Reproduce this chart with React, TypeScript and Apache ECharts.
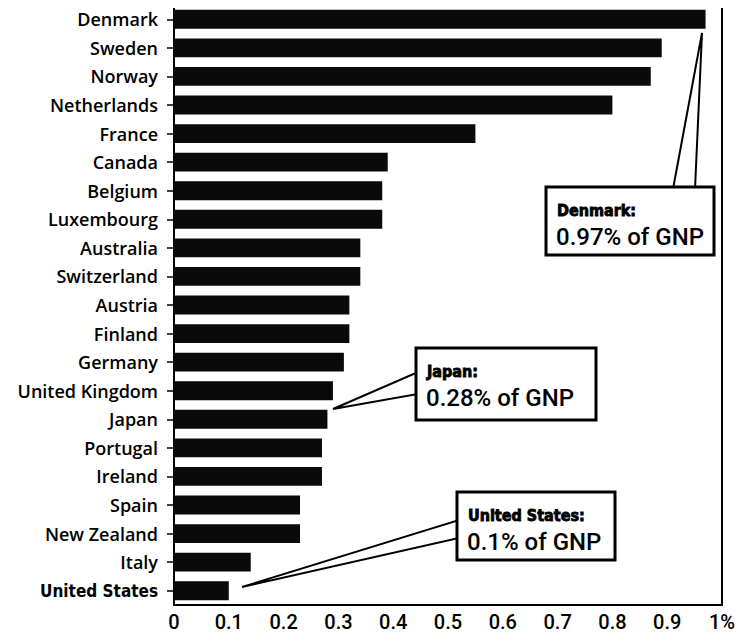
import React, { useEffect, useRef } from "react";
import * as echarts from "echarts";

const countries = [
  "Denmark", "Sweden", "Norway", "Netherlands", "France", "Canada", "Belgium",
  "Luxembourg", "Australia", "Switzerland", "Austria", "Finland", "Germany",
  "United Kingdom", "Japan", "Portugal", "Ireland", "Spain", "New Zealand",
  "Italy", "United States",
];
const aidPctGNP = [
  0.97, 0.89, 0.87, 0.8, 0.55, 0.39, 0.38, 0.38, 0.34, 0.34, 0.32, 0.32, 0.31,
  0.29, 0.28, 0.27, 0.27, 0.23, 0.23, 0.14, 0.1,
];
const xTickLabels = ["0", "0.1", "0.2", "0.3", "0.4", "0.5", "0.6", "0.7", "0.8", "0.9", "1%"];

const callouts = [
  { title: "Denmark:", value: "0.97% of GNP", box: [546, 187, 168, 68], wedge: [[702, 33], [673, 189], [695, 189]] },
  { title: "Japan:", value: "0.28% of GNP", box: [416, 348, 180, 72], wedge: [[333, 409], [418, 372], [418, 394]] },
  { title: "United States:", value: "0.1% of GNP", box: [457, 492, 158, 68], wedge: [[242, 587], [459, 520], [459, 538]] },
];

const labelFont = "'Open Sans', 'Liberation Sans', sans-serif";

export default function App() {
  const ref = useRef<HTMLDivElement>(null);
  useEffect(() => {
    if (!ref.current) return;
    const chart = echarts.init(ref.current, null, { renderer: "svg" });
    const graphic: any[] = [];
    callouts.forEach((c) => {
      graphic.push({
        type: "polygon",
        shape: { points: c.wedge },
        style: { fill: "#fff", stroke: "#000", lineWidth: 2 },
        z: 100,
      });
      const [x, y, w, h] = c.box;
      graphic.push({
        type: "rect",
        shape: { x, y, width: w, height: h },
        style: { fill: "#fff", stroke: "#000", lineWidth: 3 },
        z: 101,
      });
      graphic.push({
        type: "text",
        x: x + 11,
        y: y + 23,
        style: {
          text: c.title,
          fill: "#000",
          stroke: "#000",
          lineWidth: 0.8,
          font: "bold 16px 'DejaVu Sans Condensed', 'DejaVu Sans', sans-serif",
          verticalAlign: "middle",
        },
        z: 102,
      });
      graphic.push({
        type: "text",
        x: x + 10,
        y: y + 50,
        style: {
          text: c.value,
          fill: "#000",
          font: "500 24px Roboto, 'Liberation Sans', Arial, sans-serif",
          verticalAlign: "middle",
        },
        z: 102,
      });
    });
    chart.setOption({
      animation: false,
      backgroundColor: "#fff",
      grid: {
        left: 174,
        right: 24,
        top: 5,
        bottom: 32,
        show: true,
        borderColor: "#000",
        borderWidth: 2,
        backgroundColor: "transparent",
      },
      xAxis: {
        type: "value",
        min: 0,
        max: 1,
        interval: 0.1,
        axisLine: { show: true, lineStyle: { color: "#000", width: 2 } },
        axisTick: { show: false },
        splitLine: { show: false },
        axisLabel: {
          color: "#000",
          fontSize: 20,
          fontWeight: 500,
          fontFamily: "Roboto, 'Liberation Sans', Arial, sans-serif",
          margin: 7,
          formatter: (v: number) => xTickLabels[Math.round(v * 10)] ?? "",
        },
      },
      yAxis: {
        type: "category",
        inverse: true,
        data: countries,
        axisLine: { show: true, lineStyle: { color: "#000", width: 2 } },
        axisTick: { show: true, length: 7, alignWithLabel: true, lineStyle: { color: "#000", width: 1.5 } },
        axisLabel: {
          color: "#000",
          fontSize: 18,
          fontWeight: 600,
          fontFamily: labelFont,
          margin: 16,
          formatter: (v: string) => (v === "United States" ? `{b|${v}}` : v),
          rich: {
            b: {
              fontSize: 17,
              fontWeight: "bold",
              fontFamily: "'DejaVu Sans Condensed', 'DejaVu Sans', sans-serif",
              color: "#000",
            },
          },
        },
      },
      series: [
        {
          type: "bar",
          data: aidPctGNP,
          barCategoryGap: "34%",
          itemStyle: { color: "#0a0a0a" },
        },
      ],
      graphic,
    });
    return () => chart.dispose();
  }, []);
  return <div ref={ref} style={{ width: 746, height: 637, margin: -8 }} />;
}
